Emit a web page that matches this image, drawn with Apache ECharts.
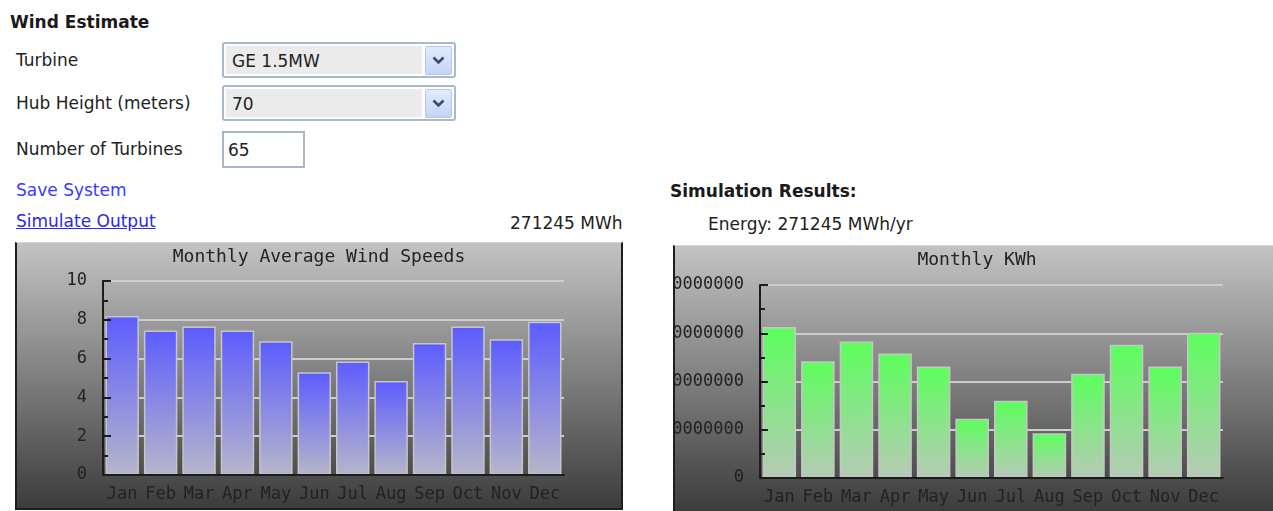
<!DOCTYPE html>
<html>
<head>
<meta charset="utf-8">
<script src="https://cdn.jsdelivr.net/npm/echarts@6/dist/echarts.min.js"></script>
<style>
  html, body { margin: 0; padding: 0; width: 1273px; height: 511px; overflow: hidden; background: #fff; }
  body { position: relative; font-family: "DejaVu Sans", Verdana, sans-serif; font-size: 17px; color: #222; }
  .t { position: absolute; white-space: nowrap; line-height: 20px; }
  .b { font-weight: bold; color: #1a1a1a; }
  .link { color: #3a3aff; }
  .u { text-decoration: underline; color: #2a2ae8; }
  .sel { position: absolute; left: 222px; width: 230px; height: 32px; border: 2px solid #a9b8ca; border-radius: 3px; background: #fff; }
  .sel .field { position: absolute; left: 2px; top: 2px; width: 196px; height: 28px; background: #ebebeb; }
  .sel .txt { position: absolute; left: 8px; top: 7px; line-height: 20px; color: #222; }
  .sel .btn { position: absolute; right: 2px; top: 2px; width: 25px; height: 27px; border: 1px solid #b6c8ea; border-radius: 2px;
              background: linear-gradient(#e1ebfd, #c3d5f7); }
  .sel .btn svg { position: absolute; left: 6px; top: 9px; }
  .inp { position: absolute; left: 222px; top: 131px; width: 79px; height: 33px; border: 2px solid #a9b6c6; background: #fff; }
  .inp .txt { position: absolute; left: 4px; top: 7px; line-height: 20px; color: #222; }
  .box { position: absolute; border-left: 2px solid #1e1e1e; border-right: 2px solid #1e1e1e; border-bottom: 2px solid #1e1e1e;
         border-top: 1px solid #d4d4d4; }
  .box > div { width: 100%; height: 100%; }
</style>
</head>
<body>
  <div class="t b" style="left:10px; top:12px;">Wind Estimate</div>
  <div class="t" style="left:16px; top:50px;">Turbine</div>
  <div class="t" style="left:16px; top:93px;">Hub Height (meters)</div>
  <div class="t" style="left:16px; top:139px;">Number of Turbines</div>
  <div class="t link" style="left:16px; top:180px;">Save System</div>
  <div class="t u" style="left:16px; top:211px;">Simulate Output</div>
  <div class="t" style="left:510px; top:213px;">271245 MWh</div>
  <div class="t b" style="left:670px; top:181px;">Simulation Results:</div>
  <div class="t" style="left:708px; top:214px;">Energy: 271245 MWh/yr</div>

  <div class="sel" style="top:42px;">
    <div class="field"></div><div class="txt">GE 1.5MW</div>
    <div class="btn"><svg width="13" height="9"><polyline points="1.5,1.5 6.5,6.5 11.5,1.5" fill="none" stroke="#3c4a66" stroke-width="2.6"/></svg></div>
  </div>
  <div class="sel" style="top:85px;">
    <div class="field"></div><div class="txt">70</div>
    <div class="btn"><svg width="13" height="9"><polyline points="1.5,1.5 6.5,6.5 11.5,1.5" fill="none" stroke="#3c4a66" stroke-width="2.6"/></svg></div>
  </div>
  <div class="inp"><div class="txt">65</div></div>

  <div class="box" style="left:15px; top:242px; width:604px; height:265px;"><div id="windChart"></div></div>
  <div class="box" style="left:673px; top:245px; width:604px; height:265px;"><div id="energyChart"></div></div>

<script>
// Monthly categories shared by both charts
const months = ['Jan', 'Feb', 'Mar', 'Apr', 'May', 'Jun', 'Jul', 'Aug', 'Sep', 'Oct', 'Nov', 'Dec'];
// Average wind speed per month (m/s)
const windSpeeds = [8.2, 7.45, 7.65, 7.45, 6.9, 5.3, 5.85, 4.85, 6.8, 7.65, 7.0, 7.9];
// Simulated energy per month (kWh)
const monthlyKWh = [31300000, 24200000, 28300000, 25800000, 23100000, 12300000, 16000000, 9300000, 21600000, 27600000, 23100000, 30100000];
// Value axis ranges
const windAxis = { min: 0, max: 10, interval: 2 };
const energyAxis = { min: 0, max: 40000000, interval: 10000000 };

const MONO = '"DejaVu Sans Mono", "Liberation Mono", monospace';

function buildOption(title, values, axis, topColor, bottomColor, grid) {
  const axisDark = '#1c1c1c';
  return {
    animation: false,
    backgroundColor: new echarts.graphic.LinearGradient(0, 0, 0, 1, [
      { offset: 0, color: '#c3c3c3' },
      { offset: 1, color: '#3c3c3c' }
    ]),
    title: {
      text: title, left: 'center', top: 4, padding: 0,
      textStyle: { fontFamily: MONO, fontSize: 18, fontWeight: 'normal', color: '#222', lineHeight: 20 }
    },
    // fixed plot rectangle; long tick labels may run past the canvas edge
    grid: Object.assign({ containLabel: false, outerBoundsMode: 'none' }, grid),
    xAxis: {
      type: 'category', data: months, z: 10,
      axisLine: { lineStyle: { color: axisDark, width: 2 } },
      axisTick: { inside: true, length: 8, lineStyle: { color: axisDark, width: 2 } },
      axisLabel: { interval: 0, margin: 11, fontFamily: MONO, fontSize: 17, color: '#222' }
    },
    yAxis: [
      {
        // grid lines sit behind the bars
        type: 'value', min: axis.min, max: axis.max, interval: axis.interval, position: 'left', z: 0,
        axisLine: { show: false }, axisTick: { show: false }, axisLabel: { show: false },
        splitLine: { show: true, lineStyle: { color: '#cdcdcd', width: 2 } }
      },
      {
        // axis line, ticks and labels drawn over the bars
        type: 'value', min: axis.min, max: axis.max, interval: axis.interval, position: 'left', offset: 0, z: 10,
        axisLine: { show: true, lineStyle: { color: axisDark, width: 2 } },
        axisTick: { show: true, inside: true, length: 8, lineStyle: { color: axisDark, width: 2 } },
        minorTick: { show: true, splitNumber: 2, length: 5, lineStyle: { color: axisDark, width: 2 } },
        splitLine: { show: false },
        axisLabel: { margin: 16, fontFamily: MONO, fontSize: 17, color: '#222', formatter: v => String(v) }
      }
    ],
    series: [{
      type: 'bar', data: values, yAxisIndex: 0, barCategoryGap: '13%',
      itemStyle: {
        color: new echarts.graphic.LinearGradient(0, 0, 0, 1, [
          { offset: 0, color: topColor },
          { offset: 1, color: bottomColor }
        ]),
        borderColor: '#c6c6c6', borderWidth: 1.5
      }
    }]
  };
}

const windChart = echarts.init(document.getElementById('windChart'), null, { renderer: 'canvas' });
windChart.setOption(buildOption('Monthly Average Wind Speeds', windSpeeds, windAxis,
  '#5c5cff', '#b6b6ca', { left: 86, right: 57, top: 38, bottom: 33 }));

const energyChart = echarts.init(document.getElementById('energyChart'), null, { renderer: 'canvas' });
energyChart.setOption(buildOption('Monthly KWh', monthlyKWh, energyAxis,
  '#5cff5c', '#b6cab6', { left: 85, right: 56, top: 39, bottom: 33 }));
</script>
</body>
</html>
